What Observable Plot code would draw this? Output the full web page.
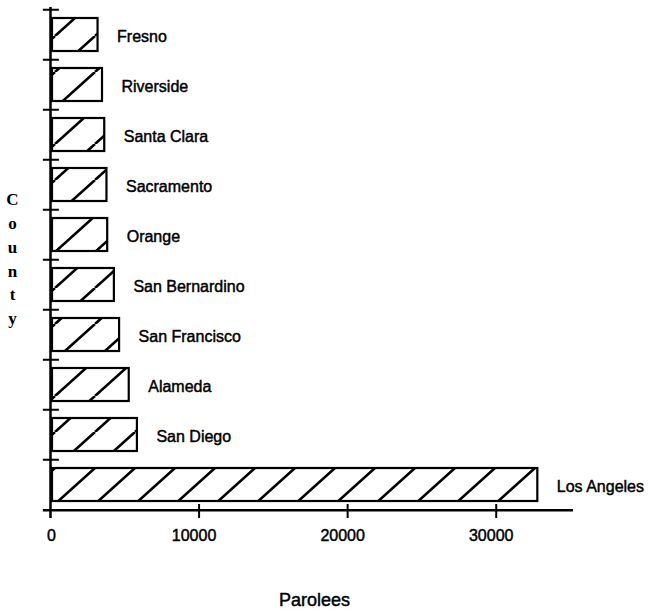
<!DOCTYPE html>
<html>
<head>
<meta charset="utf-8">
<script src="https://cdn.jsdelivr.net/npm/d3@7"></script>
<script src="https://cdn.jsdelivr.net/npm/@observablehq/plot@0.6"></script>
<style>
  html, body { margin: 0; padding: 0; background: white; }
</style>
</head>
<body>
<div id="chart"></div>
<script>
const counties = ["Fresno", "Riverside", "Santa Clara", "Sacramento", "Orange",
  "San Bernardino", "San Francisco", "Alameda", "San Diego", "Los Angeles"];
const parolees = [3200, 3500, 3650, 3800, 3850, 4300, 4650, 5300, 5850, 32800];
const xTicks = [0, 10000, 20000, 30000];
const xLabel = "Parolees";
const yLabel = "County";

const data = counties.map((c, i) => ({county: c, value: parolees[i]}));

const W = 656, H = 609;
const mL = 50, mR = 86, mT = 7, mB = 97;
const half = (H - mT - mB) / counties.length / 2;
const heavy = {fill: "black", stroke: "black", strokeWidth: 0.45};

const plot = Plot.plot({
  width: W, height: H,
  marginLeft: mL, marginRight: mR, marginTop: mT, marginBottom: mB,
  style: {fontFamily: "Liberation Sans, Arial, sans-serif", fontSize: "16px", background: "white", color: "black"},
  x: {domain: [0, 35000], axis: null},
  y: {domain: counties, axis: null, paddingInner: 0.35, paddingOuter: 0.175},
  marks: [
    Plot.barX(data, {x: "value", y: "county", fill: "url(#hatch)", stroke: "black", strokeWidth: 2.2, insetLeft: 2}),
    // y axis line
    Plot.ruleX([0], {stroke: "black", strokeWidth: 2.5, insetBottom: -6}),
    // y ticks at band boundaries
    Plot.ruleY(counties, {y: d => d, x1: -480, x2: 600, dy: -half, stroke: "black", strokeWidth: 2}),
    // x axis line at bottom boundary
    Plot.ruleY([counties[counties.length - 1]], {y: d => d, x1: -480, x2: 35200, dy: half, stroke: "black", strokeWidth: 2.5}),
    // x ticks
    Plot.ruleX(xTicks.slice(1), {stroke: "black", strokeWidth: 2, insetTop: 497, insetBottom: -6}),
    // x tick labels
    Plot.text(xTicks.slice(0, 1), {x: d => d, frameAnchor: "bottom", dy: 23, dx: 1, text: d => String(d), fontSize: 16, lineAnchor: "middle", ...heavy}),
    Plot.text(xTicks.slice(1), {x: d => d, frameAnchor: "bottom", dy: 23, dx: -5, text: d => String(d), fontSize: 16, lineAnchor: "middle", ...heavy}),
    // category labels
    Plot.text(data, {x: "value", y: "county", text: "county", textAnchor: "start", dx: 19, dy: 2, fontSize: 16, ...heavy}),
    // y axis label stacked
    Plot.text([yLabel.split("").join("\n")], {frameAnchor: "left", textAnchor: "middle", dx: -38, dy: -3, fontFamily: "Liberation Serif, Times New Roman, serif", fontWeight: "bold", fontSize: 17, lineHeight: 1.4, fill: "black"}),
    // x axis label
    Plot.text([xLabel], {frameAnchor: "bottom", dy: 88, dx: 4, fontSize: 18, lineAnchor: "middle", ...heavy})
  ]
});

const svgNS = "http://www.w3.org/2000/svg";
const defs = document.createElementNS(svgNS, "defs");
defs.innerHTML = `<pattern id="hatch" patternUnits="userSpaceOnUse" x="15" y="0" width="40" height="36">
  <rect width="40" height="36" fill="white"/>
  <path d="M-40,36L0,0M0,36L40,0M40,36L80,0" stroke="black" stroke-width="2.6" fill="none"/>
</pattern>`;
plot.insertBefore(defs, plot.firstChild);
document.getElementById("chart").appendChild(plot);
</script>
</body>
</html>
